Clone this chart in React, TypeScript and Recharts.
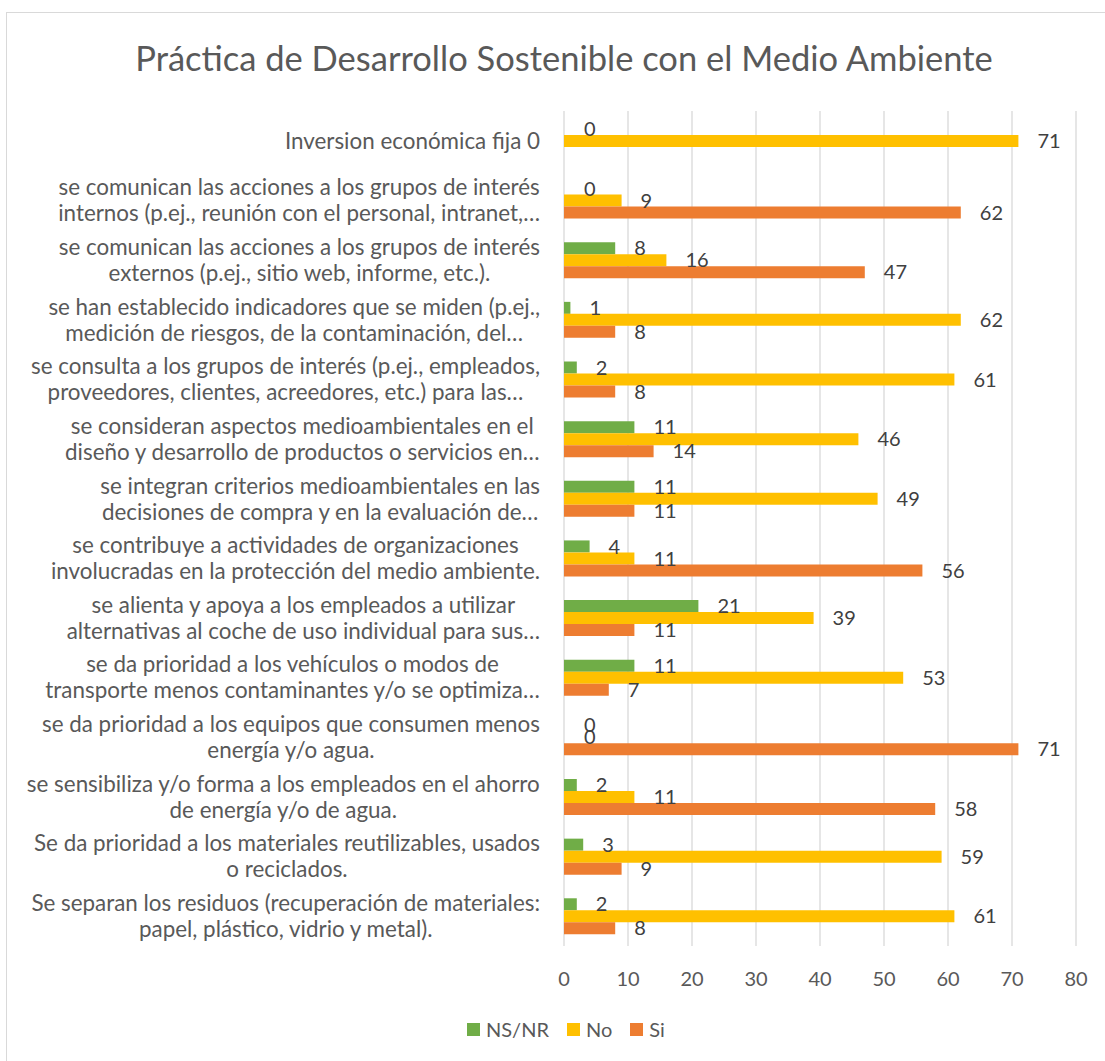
import React from 'react'
import { BarChart, Bar, XAxis, YAxis, CartesianGrid, LabelList, Rectangle } from 'recharts'

// categorías (de arriba hacia abajo), con el salto de línea como en el original
const categorias = [
  'Inversion económica fija 0',
  'se comunican las acciones a los grupos de interés\ninternos (p.ej., reunión con el personal, intranet,…',
  'se comunican las acciones a los grupos de interés\nexternos (p.ej., sitio web, informe, etc.).',
  'se han establecido indicadores que se miden (p.ej.,\nmedición de riesgos, de la contaminación, del…',
  'se consulta a los grupos de interés (p.ej., empleados,\nproveedores, clientes, acreedores, etc.) para las…',
  'se consideran aspectos medioambientales en el\ndiseño y desarrollo de productos o servicios en…',
  'se integran criterios medioambientales en las\ndecisiones de compra y en la evaluación de…',
  'se contribuye a actividades de organizaciones\ninvolucradas en la protección del medio ambiente.',
  'se alienta y apoya a los empleados a utilizar\nalternativas al coche de uso individual para sus…',
  'se da prioridad a los vehículos o modos de\ntransporte menos contaminantes y/o se optimiza…',
  'se da prioridad a los equipos que consumen menos\nenergía y/o agua.',
  'se sensibiliza y/o forma a los empleados en el ahorro\nde energía y/o de agua.',
  'Se da prioridad a los materiales reutilizables, usados\no reciclados.',
  'Se separan los residuos (recuperación de materiales:\npapel, plástico, vidrio y metal).',
]

const nsnr = [0, 0, 8, 1, 2, 11, 11, 4, 21, 11, 0, 2, 3, 2]
const no = [71, 9, 16, 62, 61, 46, 49, 11, 39, 53, 0, 11, 59, 61]
const si = [null, 62, 47, 8, 8, 14, 11, 56, 11, 7, 71, 58, 9, 8]

const xTicks = [0, 10, 20, 30, 40, 50, 60, 70, 80]

const data = categorias.map((name, i) => ({
  name,
  'NS/NR': nsnr[i],
  No: no[i],
  Si: si[i],
}))

const FONT = 'Lato, "Open Sans", sans-serif'
const GRIS = '#595959'
const VERDE = '#70AD47'
const AMARILLO = '#FFC000'
const NARANJA = '#ED7D31'

const LABEL_SIZE = 22.4
let ctx: CanvasRenderingContext2D | null = null
function medir(texto: string) {
  if (!ctx) ctx = document.createElement('canvas').getContext('2d')
  if (!ctx) return texto.length * 10
  ctx.font = `${LABEL_SIZE}px Lato`
  return ctx.measureText(texto).width
}

// etiqueta de categoría multilínea, centrada y alineada a la derecha como bloque
const CategoriaTick = ({ y, payload }: any) => {
  const lineas = String(payload.value).split('\n')
  const ancho = Math.max(...lineas.map(medir))
  const derecha = 540
  const cx = derecha - ancho / 2
  const alto = 26
  const y0 = y - ((lineas.length - 1) * alto) / 2
  return (
    <g>
      {lineas.map((l, i) => (
        <text
          key={i}
          x={cx}
          y={y0 + i * alto}
          dy="0.35em"
          textAnchor="middle"
          fill={GRIS}
          fontSize={LABEL_SIZE}
          fontFamily={FONT}
        >
          {l}
        </text>
      ))}
    </g>
  )
}

// los valores 0 llevan una barra mínima (para que salga la etiqueta) pero no se dibuja
const minimo = (v: any) => (v === 0 ? 1 : 0)
const Barra = (p: any) => (p.width <= 1.5 ? <g /> : <Rectangle {...p} />)

const estiloEtiqueta = { fill: '#404040', fontSize: 20, fontFamily: FONT }

const leyenda = [
  ['NS/NR', VERDE],
  ['No', AMARILLO],
  ['Si', NARANJA],
]

export default function App() {
  return (
    <div style={{ position: 'absolute', left: 0, top: 0, width: 1105, height: 1061, background: '#fff', overflow: 'hidden' }}>
      {/* marco del gráfico */}
      <div
        style={{
          position: 'absolute',
          left: 6,
          top: 12,
          width: 1120,
          height: 1070,
          borderLeft: '1.5px solid #d9d9d9',
          borderTop: '1.5px solid #d9d9d9',
        }}
      />
      <div
        style={{
          position: 'absolute',
          left: 564,
          top: 37,
          transform: 'translateX(-50%)',
          whiteSpace: 'nowrap',
          fontFamily: FONT,
          fontSize: 34.5,
          color: GRIS,
        }}
      >
        Práctica de Desarrollo Sostenible con el Medio Ambiente
      </div>

      <div style={{ position: 'absolute', left: 0, top: 0 }}>
        <BarChart
          width={1105}
          height={1061}
          data={data}
          layout="vertical"
          margin={{ top: 111, right: 29, left: 0, bottom: 75 }}
          barCategoryGap="20%"
          barGap={0}
        >
          <CartesianGrid horizontal={false} vertical={true} stroke="#d9d9d9" strokeWidth={1.3} />
          <XAxis
            type="number"
            domain={[0, 80]}
            ticks={xTicks}
            axisLine={false}
            tickLine={false}
            height={40}
            tickMargin={20}
            tick={{ fill: GRIS, fontSize: 20, fontFamily: FONT }}
          />
          <YAxis
            type="category"
            dataKey="name"
            width={564}
            axisLine={false}
            tickLine={false}
            interval={0}
            tick={<CategoriaTick />}
          />
          <Bar dataKey="NS/NR" fill={VERDE} minPointSize={minimo} shape={Barra} isAnimationActive={false}>
            <LabelList dataKey="NS/NR" position="right" offset={19} style={estiloEtiqueta} />
          </Bar>
          <Bar dataKey="No" fill={AMARILLO} minPointSize={minimo} shape={Barra} isAnimationActive={false}>
            <LabelList dataKey="No" position="right" offset={19} style={estiloEtiqueta} />
          </Bar>
          <Bar dataKey="Si" fill={NARANJA} minPointSize={minimo} shape={Barra} isAnimationActive={false}>
            <LabelList dataKey="Si" position="right" offset={19} style={estiloEtiqueta} />
          </Bar>
        </BarChart>
      </div>

      {/* leyenda */}
      <div
        style={{
          position: 'absolute',
          left: 467,
          top: 1017,
          display: 'flex',
          gap: 18,
          fontFamily: FONT,
          fontSize: 20,
          color: GRIS,
          whiteSpace: 'nowrap',
        }}
      >
        {leyenda.map(([n, c]) => (
          <div key={n} style={{ display: 'flex', alignItems: 'center', gap: 6 }}>
            <span style={{ width: 13, height: 13, background: c, display: 'inline-block' }} />
            <span>{n}</span>
          </div>
        ))}
      </div>
    </div>
  )
}
